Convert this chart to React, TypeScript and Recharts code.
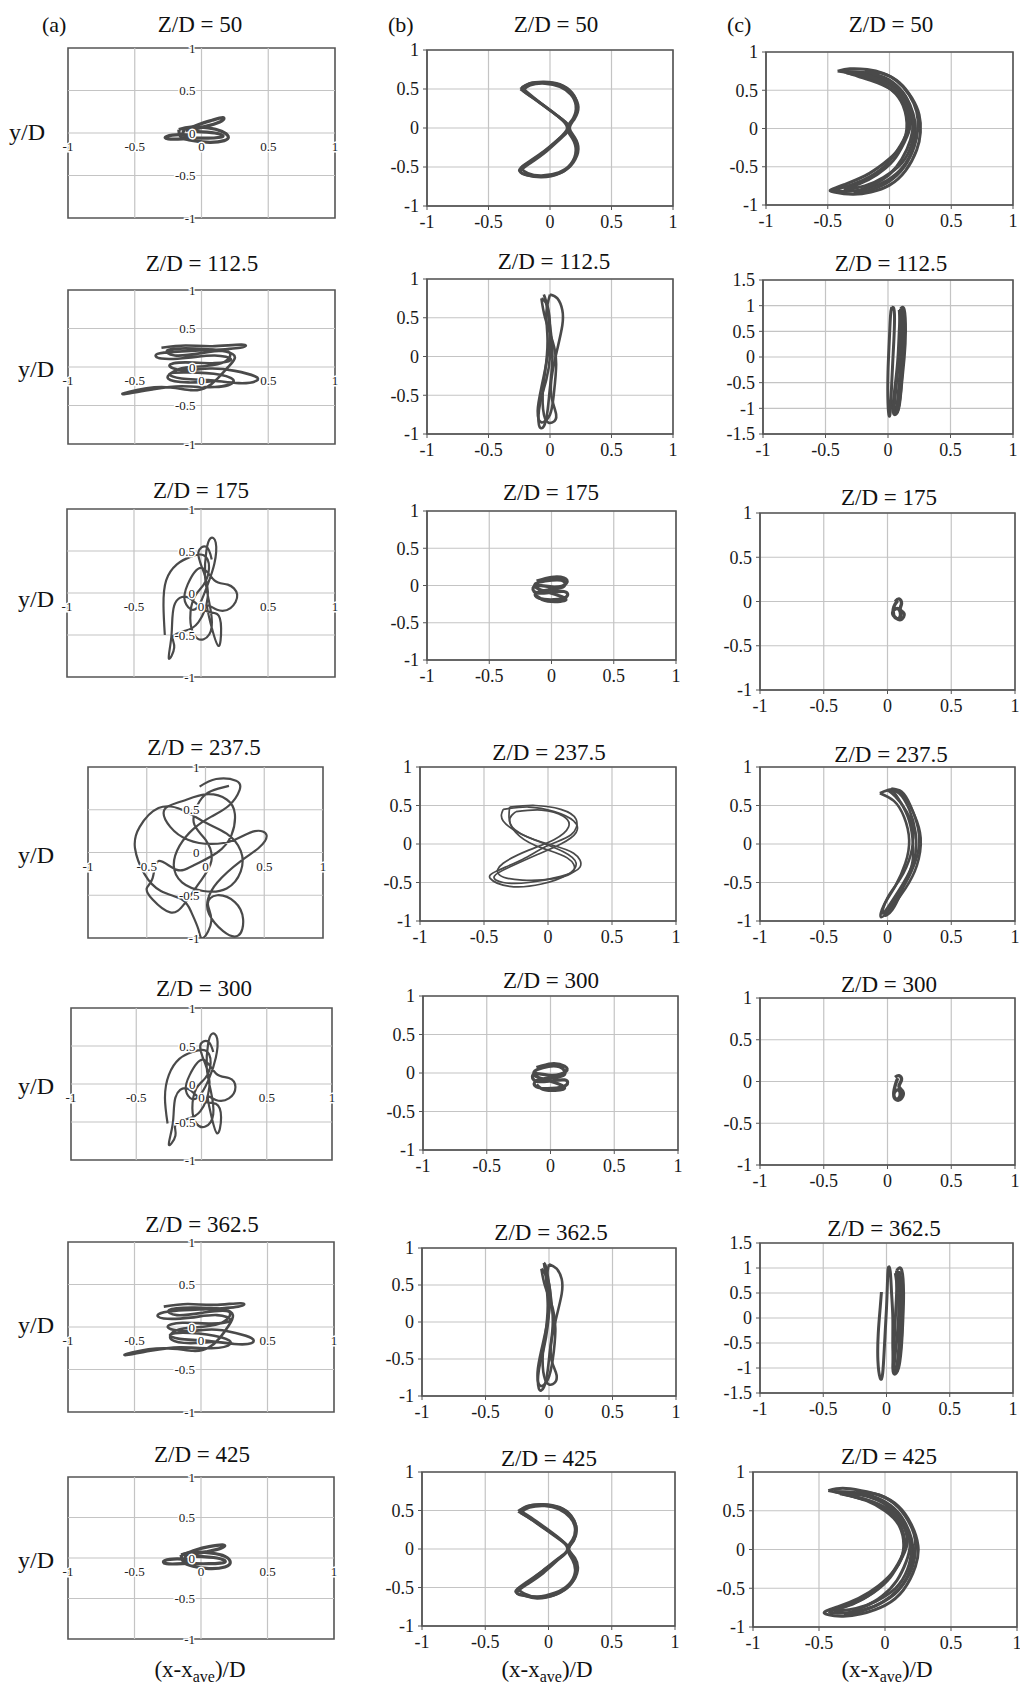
import React from "react";
import {
  LineChart,
  Line,
  XAxis,
  YAxis,
  CartesianGrid,
  ReferenceLine,
  ReferenceArea,
  ReferenceDot,
} from "recharts";

type Pt = [number, number];

const FONT = '"Liberation Serif", "Times New Roman", Times, serif';
const INK = "#4a4a4a";
const GRID = "#c4c4c4";
const FRAME = "#555555";

// ---------- ticks / labels ----------
const unitTicks = [-1, -0.5, 0, 0.5, 1];
const wideTicks = [-1.5, -1, -0.5, 0, 0.5, 1, 1.5];
const innerGrid = [-0.5, 0, 0.5];
const zTitles = ["Z/D = 50", "Z/D = 112.5", "Z/D = 175", "Z/D = 237.5", "Z/D = 300", "Z/D = 362.5", "Z/D = 425"];
const columnTags = ["(a)", "(b)", "(c)"];

// ---------- column (a): rope cross-section paths ----------
const a50Body: Pt[] = [[-0.17,0.04],[-0.08,0.07],[0.05,0.06],[0.15,0.02],[0.2,-0.04],[0.17,-0.09],[0.06,-0.11],[-0.06,-0.09],[-0.15,-0.05],[-0.17,0.04]];
const a50Leaf: Pt[] = [[-0.12,0.03],[-0.02,0.1],[0.08,0.15],[0.16,0.18],[0.15,0.14],[0.06,0.09],[-0.04,0.05],[-0.12,0.03]];
const a50Tail: Pt[] = [[-0.06,-0.03],[-0.16,-0.02],[-0.26,-0.04],[-0.25,-0.07],[-0.14,-0.07],[-0.04,-0.06]];
const a50Inner: Pt[] = [[-0.12,0.06],[-0.14,0.0],[-0.1,-0.05],[0.05,-0.06],[0.16,-0.04],[0.1,0.0],[-0.05,0.02]];

const a112: Pt[] = [[-0.3,0.25],[-0.12,0.28],[0.08,0.27],[0.3,0.29],[0.29,0.25],[0.05,0.22],[-0.18,0.2],[-0.33,0.17],[-0.3,0.11],[-0.1,0.12],[0.1,0.15],[0.22,0.1],[0.1,0.05],[-0.12,0.06],[-0.24,0.02],[-0.14,-0.04],[0.06,-0.02],[0.25,-0.05],[0.4,-0.12],[0.41,-0.18],[0.28,-0.21],[0.05,-0.17],[-0.15,-0.15],[-0.24,-0.09],[-0.1,-0.07],[0.14,-0.1],[0.24,-0.19],[0.1,-0.26],[-0.15,-0.25],[-0.36,-0.29],[-0.57,-0.35],[-0.54,-0.32],[-0.3,-0.26],[-0.08,-0.3],[0.04,-0.26],[0.12,-0.15],[0.2,0.0],[0.25,0.12],[0.18,0.2],[-0.05,0.24],[-0.25,0.22],[-0.2,0.15],[0.0,0.18],[0.2,0.2],[0.15,0.05],[-0.08,0.0],[-0.2,-0.05],[-0.25,-0.15],[-0.1,-0.2],[0.1,-0.18]];

const a175: Pt[] = [[-0.27,-0.5],[-0.28,-0.15],[-0.26,0.15],[-0.18,0.34],[-0.08,0.43],[0.02,0.45],[0.06,0.3],[0.02,0.1],[-0.05,-0.05],[-0.08,-0.3],[-0.05,-0.5],[0.02,-0.55],[0.08,-0.4],[0.06,-0.1],[0.03,0.2],[0.04,0.5],[0.07,0.65],[0.11,0.6],[0.1,0.35],[0.05,0.1],[0.0,-0.1],[-0.06,-0.2],[-0.12,-0.1],[-0.1,0.1],[0.0,0.3],[0.1,0.15],[0.2,0.1],[0.27,-0.02],[0.22,-0.18],[0.12,-0.2],[0.05,-0.15],[0.07,-0.35],[0.13,-0.63],[0.15,-0.42],[0.12,-0.25],[0.02,-0.2],[-0.1,-0.05],[-0.2,-0.15],[-0.22,-0.5],[-0.24,-0.78],[-0.2,-0.65],[-0.21,-0.52],[-0.12,-0.45],[-0.02,-0.35],[0.05,-0.05],[0.02,0.25],[-0.02,0.48],[0.04,0.55],[0.08,0.4]];

const a237: Pt[] = [[-0.05,0.77],[0.09,0.86],[0.26,0.84],[0.29,0.73],[0.2,0.55],[0.05,0.42],[-0.1,0.28],[-0.22,0.08],[-0.27,-0.15],[-0.2,-0.35],[-0.02,-0.45],[0.18,-0.42],[0.3,-0.22],[0.3,0.02],[0.18,0.22],[0.0,0.35],[-0.2,0.5],[-0.4,0.52],[-0.56,0.3],[-0.6,0.05],[-0.52,-0.25],[-0.38,-0.45],[-0.2,-0.55],[-0.12,-0.7],[-0.06,-0.9],[-0.02,-1.0],[0.05,-0.8],[0.02,-0.6],[0.1,-0.5],[0.25,-0.58],[0.32,-0.78],[0.28,-0.97],[0.15,-0.92],[0.03,-0.72],[0.02,-0.55],[0.1,-0.35],[0.3,-0.1],[0.45,0.05],[0.52,0.2],[0.42,0.25],[0.25,0.15],[0.05,0.1],[-0.15,0.15],[-0.3,0.3],[-0.35,0.5],[-0.2,0.6],[0.0,0.68],[0.18,0.62],[0.25,0.45],[0.22,0.2],[0.1,0.0],[-0.1,-0.15],[-0.25,-0.2],[-0.4,-0.1],[-0.45,-0.3],[-0.5,-0.42],[-0.45,-0.55],[-0.3,-0.7],[-0.18,-0.6],[-0.05,-0.35],[0.05,-0.1],[0.0,0.15],[-0.1,0.35],[-0.05,0.6],[0.05,0.72],[0.2,0.78]];

const a300: Pt[] = [[-0.26,-0.52],[-0.28,-0.18],[-0.25,0.12],[-0.17,0.33],[-0.07,0.42],[0.03,0.44],[0.07,0.28],[0.03,0.08],[-0.04,-0.06],[-0.07,-0.32],[-0.04,-0.52],[0.03,-0.56],[0.09,-0.4],[0.07,-0.08],[0.04,0.22],[0.05,0.52],[0.08,0.66],[0.12,0.6],[0.11,0.35],[0.06,0.08],[0.0,-0.12],[-0.07,-0.2],[-0.12,-0.08],[-0.09,0.12],[0.01,0.32],[0.11,0.14],[0.21,0.08],[0.26,-0.04],[0.21,-0.19],[0.11,-0.21],[0.05,-0.17],[0.07,-0.38],[0.12,-0.65],[0.15,-0.44],[0.11,-0.26],[0.01,-0.22],[-0.11,-0.06],[-0.2,-0.18],[-0.22,-0.52],[-0.25,-0.8],[-0.2,-0.68],[-0.2,-0.54],[-0.11,-0.46],[-0.01,-0.36],[0.06,-0.04],[0.03,0.26],[-0.01,0.5],[0.05,0.56],[0.09,0.42]];

const a362: Pt[] = [[-0.28,0.24],[-0.1,0.27],[0.1,0.26],[0.3,0.28],[0.28,0.24],[0.04,0.21],[-0.2,0.19],[-0.32,0.15],[-0.28,0.1],[-0.08,0.11],[0.12,0.14],[0.22,0.08],[0.08,0.04],[-0.14,0.05],[-0.25,0.0],[-0.12,-0.05],[0.08,-0.03],[0.26,-0.07],[0.38,-0.13],[0.38,-0.19],[0.25,-0.2],[0.03,-0.16],[-0.16,-0.14],[-0.23,-0.09],[-0.08,-0.07],[0.15,-0.12],[0.22,-0.2],[0.08,-0.25],[-0.16,-0.24],[-0.38,-0.28],[-0.56,-0.33],[-0.52,-0.3],[-0.28,-0.25],[-0.06,-0.28],[0.06,-0.24],[0.14,-0.13],[0.21,0.02],[0.24,0.14],[0.16,0.21],[-0.07,0.23],[-0.24,0.2],[-0.18,0.14],[0.02,0.17],[0.21,0.18],[0.14,0.04],[-0.09,-0.01],[-0.21,-0.06],[-0.22,-0.15],[-0.08,-0.19],[0.12,-0.17]];

const a425Body: Pt[] = [[-0.15,0.04],[-0.05,0.07],[0.08,0.06],[0.18,0.02],[0.22,-0.05],[0.18,-0.11],[0.06,-0.13],[-0.06,-0.1],[-0.13,-0.05],[-0.15,0.04]];
const a425Leaf: Pt[] = [[-0.14,0.04],[-0.04,0.1],[0.06,0.14],[0.17,0.16],[0.15,0.12],[0.05,0.08],[-0.05,0.05],[-0.14,0.04]];
const a425Tail: Pt[] = [[-0.08,-0.02],[-0.18,-0.01],[-0.27,-0.03],[-0.26,-0.07],[-0.14,-0.07],[-0.05,-0.06]];
const a425Inner: Pt[] = [[-0.1,0.06],[-0.12,0.0],[-0.08,-0.06],[0.06,-0.07],[0.18,-0.05],[0.12,0.0],[-0.04,0.02]];

// ---------- column (b) ----------
const b50a: Pt[] = [[-0.24,0.5],[-0.17,0.57],[-0.05,0.59],[0.08,0.56],[0.18,0.45],[0.22,0.3],[0.2,0.14],[0.15,0.0],[0.19,-0.12],[0.22,-0.28],[0.18,-0.45],[0.08,-0.58],[-0.07,-0.63],[-0.19,-0.6],[-0.25,-0.54],[-0.18,-0.44],[-0.05,-0.3],[0.08,-0.13],[0.15,0.0],[0.09,0.12],[-0.03,0.26],[-0.15,0.4],[-0.24,0.5]];
const b50b: Pt[] = [[-0.22,0.48],[-0.16,0.55],[-0.04,0.57],[0.08,0.53],[0.17,0.43],[0.21,0.29],[0.19,0.13],[0.14,0.0],[0.18,-0.13],[0.21,-0.29],[0.17,-0.46],[0.07,-0.57],[-0.07,-0.61],[-0.18,-0.58],[-0.23,-0.52],[-0.2,-0.47],[-0.07,-0.33],[0.07,-0.14],[0.14,0.0],[0.08,0.13],[-0.05,0.29],[-0.17,0.42],[-0.22,0.48]];
const b50c: Pt[] = [[-0.23,0.52],[-0.14,0.58],[-0.02,0.58],[0.1,0.54],[0.19,0.42],[0.23,0.27],[0.2,0.12],[0.16,0.0],[0.2,-0.12],[0.23,-0.27],[0.19,-0.44],[0.09,-0.57],[-0.05,-0.62],[-0.17,-0.61],[-0.24,-0.56],[-0.16,-0.45],[-0.03,-0.3],[0.09,-0.13],[0.16,0.0],[0.1,0.11],[-0.02,0.25],[-0.14,0.4],[-0.23,0.52]];

const b112a: Pt[] = [[-0.05,0.8],[-0.02,0.6],[0.0,0.3],[0.0,0.0],[-0.03,-0.3],[-0.08,-0.6],[-0.09,-0.88],[-0.05,-0.9],[-0.02,-0.7],[0.0,-0.4],[0.02,0.0],[0.0,0.4],[-0.03,0.7],[-0.05,0.8]];
const b112b: Pt[] = [[0.0,0.8],[0.06,0.75],[0.1,0.6],[0.1,0.4],[0.06,0.1],[0.02,-0.2],[0.01,-0.5],[0.05,-0.75],[0.02,-0.85],[-0.04,-0.8],[-0.06,-0.5],[-0.04,-0.2],[-0.02,0.2],[-0.03,0.55],[0.0,0.8]];
const b112c: Pt[] = [[-0.07,0.75],[-0.04,0.5],[0.02,0.2],[0.05,-0.1],[0.03,-0.5],[0.0,-0.75],[-0.07,-0.85],[-0.1,-0.7],[-0.07,-0.4],[-0.02,0.0],[0.0,0.35],[-0.02,0.65],[-0.07,0.75]];

const b175: Pt[] = [[-0.12,0.06],[0.0,0.11],[0.1,0.1],[0.12,0.03],[0.02,-0.02],[-0.12,0.0],[-0.14,-0.08],[-0.04,-0.1],[0.1,-0.08],[0.12,-0.15],[0.02,-0.19],[-0.1,-0.17],[-0.12,-0.1],[0.0,-0.05],[0.1,-0.01],[0.08,0.07],[-0.05,0.06],[-0.13,0.02],[-0.1,-0.05],[0.05,-0.13],[0.11,-0.2],[-0.03,-0.21],[-0.12,-0.14]];

const b237a: Pt[] = [[-0.35,0.45],[-0.15,0.48],[0.05,0.42],[0.2,0.3],[0.22,0.15],[0.1,0.0],[-0.1,-0.15],[-0.3,-0.3],[-0.42,-0.42],[-0.35,-0.5],[-0.15,-0.5],[0.1,-0.42],[0.25,-0.3],[0.2,-0.12],[0.0,0.0],[-0.2,0.12],[-0.35,0.3],[-0.35,0.45]];
const b237b: Pt[] = [[-0.3,0.48],[-0.1,0.5],[0.1,0.45],[0.22,0.32],[0.18,0.12],[0.0,-0.02],[-0.2,-0.2],[-0.4,-0.35],[-0.45,-0.45],[-0.3,-0.55],[-0.05,-0.52],[0.15,-0.4],[0.22,-0.25],[0.12,-0.1],[-0.1,0.05],[-0.28,0.22],[-0.3,0.48]];
const b237c: Pt[] = [[-0.25,0.42],[-0.05,0.44],[0.12,0.36],[0.16,0.22],[0.05,0.06],[-0.15,-0.08],[-0.35,-0.25],[-0.38,-0.4],[-0.2,-0.47],[0.05,-0.45],[0.2,-0.35],[0.15,-0.18],[-0.05,-0.05],[-0.22,0.1],[-0.3,0.3],[-0.25,0.42]];

const b300: Pt[] = [[-0.11,0.07],[0.01,0.12],[0.11,0.09],[0.12,0.02],[0.01,-0.03],[-0.12,-0.01],[-0.13,-0.09],[-0.03,-0.11],[0.11,-0.09],[0.12,-0.16],[0.01,-0.2],[-0.11,-0.18],[-0.11,-0.1],[0.01,-0.06],[0.11,-0.02],[0.07,0.08],[-0.06,0.07],[-0.13,0.01],[-0.09,-0.06],[0.06,-0.14],[0.1,-0.21],[-0.04,-0.22],[-0.11,-0.15]];

const b362a: Pt[] = [[-0.04,0.8],[-0.02,0.55],[0.0,0.25],[-0.01,-0.05],[-0.04,-0.35],[-0.08,-0.65],[-0.08,-0.9],[-0.04,-0.88],[-0.01,-0.65],[0.01,-0.35],[0.03,0.0],[0.01,0.4],[-0.02,0.72],[-0.04,0.8]];
const b362b: Pt[] = [[0.0,0.78],[0.06,0.72],[0.1,0.58],[0.1,0.38],[0.06,0.08],[0.02,-0.25],[0.02,-0.52],[0.06,-0.72],[0.03,-0.84],[-0.03,-0.78],[-0.05,-0.48],[-0.03,-0.18],[-0.01,0.22],[-0.02,0.55],[0.0,0.78]];
const b362c: Pt[] = [[-0.06,0.72],[-0.03,0.48],[0.03,0.18],[0.05,-0.12],[0.03,-0.5],[-0.01,-0.78],[-0.07,-0.86],[-0.09,-0.68],[-0.06,-0.38],[-0.01,0.02],[0.01,0.38],[-0.02,0.62],[-0.06,0.72]];

const b425a: Pt[] = [[-0.24,0.49],[-0.16,0.56],[-0.04,0.58],[0.09,0.54],[0.18,0.43],[0.22,0.28],[0.2,0.12],[0.16,0.0],[0.2,-0.13],[0.22,-0.29],[0.17,-0.47],[0.06,-0.59],[-0.09,-0.64],[-0.2,-0.6],[-0.26,-0.55],[-0.19,-0.45],[-0.06,-0.3],[0.08,-0.12],[0.16,0.0],[0.1,0.11],[-0.03,0.26],[-0.15,0.4],[-0.24,0.49]];
const b425b: Pt[] = [[-0.22,0.47],[-0.15,0.54],[-0.03,0.56],[0.08,0.52],[0.17,0.41],[0.21,0.27],[0.19,0.12],[0.15,0.0],[0.19,-0.14],[0.21,-0.3],[0.16,-0.46],[0.05,-0.57],[-0.09,-0.62],[-0.19,-0.58],[-0.24,-0.52],[-0.2,-0.48],[-0.08,-0.33],[0.07,-0.14],[0.15,0.0],[0.08,0.14],[-0.05,0.29],[-0.17,0.42],[-0.22,0.47]];
const b425c: Pt[] = [[-0.23,0.5],[-0.13,0.57],[-0.01,0.57],[0.11,0.52],[0.19,0.4],[0.22,0.26],[0.2,0.11],[0.16,0.0],[0.21,-0.12],[0.23,-0.28],[0.18,-0.45],[0.07,-0.58],[-0.07,-0.63],[-0.18,-0.61],[-0.25,-0.57],[-0.17,-0.46],[-0.04,-0.31],[0.09,-0.12],[0.16,0.0],[0.1,0.12],[-0.02,0.27],[-0.14,0.41],[-0.23,0.5]];

// ---------- column (c) ----------
const c50a: Pt[] = [[-0.42,0.75],[-0.32,0.78],[-0.18,0.77],[-0.05,0.72],[0.08,0.6],[0.18,0.4],[0.24,0.18],[0.25,-0.05],[0.22,-0.28],[0.13,-0.55],[0.0,-0.74],[-0.15,-0.83],[-0.3,-0.86],[-0.45,-0.83],[-0.47,-0.8],[-0.36,-0.73],[-0.2,-0.62],[-0.05,-0.46],[0.08,-0.26],[0.14,0.0],[0.11,0.3],[0.02,0.5],[-0.12,0.63],[-0.28,0.71],[-0.42,0.75]];
const c50b: Pt[] = [[-0.38,0.75],[-0.25,0.74],[-0.1,0.7],[0.03,0.6],[0.13,0.42],[0.19,0.2],[0.21,0.0],[0.19,-0.25],[0.11,-0.5],[-0.02,-0.68],[-0.17,-0.78],[-0.32,-0.82],[-0.44,-0.81],[-0.3,-0.73],[-0.15,-0.62],[-0.02,-0.46],[0.09,-0.22],[0.15,0.02],[0.13,0.28],[0.05,0.47],[-0.1,0.6],[-0.25,0.68],[-0.38,0.75]];
const c50c: Pt[] = [[-0.35,0.73],[-0.2,0.72],[-0.06,0.66],[0.07,0.52],[0.16,0.3],[0.2,0.05],[0.18,-0.2],[0.1,-0.45],[-0.05,-0.64],[-0.2,-0.75],[-0.36,-0.8],[-0.24,-0.72],[-0.1,-0.6],[0.03,-0.42],[0.12,-0.18],[0.17,0.05],[0.14,0.3],[0.04,0.52],[-0.12,0.65],[-0.35,0.73]];
const c50d: Pt[] = [[-0.2,0.75],[-0.06,0.72],[0.06,0.62],[0.16,0.44],[0.22,0.22],[0.23,0.0],[0.2,-0.24],[0.12,-0.5],[0.0,-0.69],[-0.15,-0.8],[-0.28,-0.84],[-0.14,-0.74],[0.0,-0.6],[0.1,-0.4],[0.17,-0.15],[0.19,0.08],[0.16,0.32],[0.08,0.52],[-0.05,0.66],[-0.2,0.75]];

const c112L: Pt[] = [[0.03,0.97],[0.05,0.9],[0.05,0.5],[0.04,0.0],[0.03,-0.5],[0.02,-1.0],[0.01,-1.15],[0.0,-0.9],[0.0,-0.3],[0.01,0.3],[0.02,0.8],[0.03,0.97]];
const c112a: Pt[] = [[0.1,0.94],[0.13,0.92],[0.14,0.5],[0.13,0.0],[0.11,-0.5],[0.09,-0.95],[0.06,-1.12],[0.04,-1.0],[0.06,-0.5],[0.08,0.0],[0.09,0.5],[0.1,0.94]];
const c112b: Pt[] = [[0.12,0.93],[0.13,0.6],[0.12,0.1],[0.1,-0.4],[0.08,-0.9],[0.05,-1.08],[0.06,-0.7],[0.08,-0.2],[0.1,0.3],[0.11,0.8],[0.12,0.93]];
const c112c: Pt[] = [[0.09,0.92],[0.1,0.5],[0.1,0.0],[0.09,-0.5],[0.07,-1.05],[0.09,-0.9],[0.11,-0.4],[0.12,0.2],[0.12,0.7],[0.09,0.92]];

const c175: Pt[] = [[0.06,0.0],[0.09,0.03],[0.11,-0.02],[0.1,-0.09],[0.13,-0.14],[0.11,-0.2],[0.07,-0.19],[0.04,-0.13],[0.07,-0.08],[0.1,-0.12],[0.09,-0.19],[0.05,-0.16],[0.05,-0.06],[0.08,0.01]];

const c237a: Pt[] = [[-0.06,0.66],[0.04,0.71],[0.13,0.62],[0.21,0.38],[0.26,0.08],[0.23,-0.28],[0.14,-0.58],[0.03,-0.83],[-0.05,-0.95],[-0.03,-0.8],[0.06,-0.55],[0.14,-0.25],[0.17,0.05],[0.13,0.35],[0.05,0.56],[-0.06,0.66]];
const c237b: Pt[] = [[0.0,0.7],[0.09,0.66],[0.17,0.45],[0.22,0.15],[0.21,-0.2],[0.12,-0.52],[0.02,-0.78],[-0.04,-0.9],[0.0,-0.7],[0.1,-0.45],[0.18,-0.15],[0.2,0.15],[0.15,0.42],[0.06,0.62],[0.0,0.7]];
const c237c: Pt[] = [[0.03,0.72],[0.11,0.68],[0.18,0.5],[0.24,0.2],[0.24,-0.1],[0.17,-0.42],[0.07,-0.7],[-0.02,-0.92],[0.04,-0.85],[0.12,-0.58],[0.19,-0.28],[0.2,0.0],[0.17,0.3],[0.1,0.55],[0.03,0.72]];

const c300: Pt[] = [[0.06,0.05],[0.09,0.07],[0.11,0.02],[0.09,-0.06],[0.12,-0.12],[0.11,-0.2],[0.07,-0.22],[0.05,-0.15],[0.08,-0.1],[0.1,-0.15],[0.08,-0.21],[0.05,-0.17],[0.06,-0.05],[0.08,0.04]];

const c362L: Pt[] = [[-0.04,0.52],[-0.05,0.2],[-0.065,-0.3],[-0.068,-0.85],[-0.05,-1.2],[-0.03,-1.1],[-0.015,-0.5],[0.0,0.2],[0.008,0.75],[0.015,1.01],[0.03,0.92],[0.04,0.5],[0.05,0.0],[0.05,-0.6],[0.06,-1.05]];
const c362a: Pt[] = [[0.08,0.95],[0.12,0.96],[0.135,0.5],[0.13,0.0],[0.12,-0.5],[0.1,-0.95],[0.07,-1.12],[0.05,-1.0],[0.06,-0.5],[0.07,0.0],[0.08,0.5],[0.08,0.95]];
const c362b: Pt[] = [[0.1,0.94],[0.12,0.6],[0.12,0.1],[0.11,-0.4],[0.09,-0.9],[0.06,-1.08],[0.07,-0.7],[0.09,-0.2],[0.1,0.3],[0.1,0.8],[0.1,0.94]];
const c362c: Pt[] = [[0.07,0.9],[0.09,0.5],[0.1,0.0],[0.1,-0.5],[0.08,-1.05],[0.1,-0.85],[0.12,-0.35],[0.125,0.2],[0.12,0.75],[0.07,0.9]];

const c425a: Pt[] = [[-0.43,0.76],[-0.32,0.79],[-0.18,0.76],[-0.04,0.7],[0.1,0.56],[0.2,0.32],[0.25,0.05],[0.23,-0.22],[0.14,-0.52],[0.0,-0.72],[-0.18,-0.83],[-0.33,-0.86],[-0.46,-0.82],[-0.36,-0.74],[-0.2,-0.63],[-0.05,-0.47],[0.08,-0.25],[0.14,0.0],[0.11,0.3],[0.0,0.5],[-0.14,0.63],[-0.3,0.71],[-0.43,0.76]];
const c425b: Pt[] = [[-0.39,0.75],[-0.24,0.74],[-0.1,0.69],[0.04,0.57],[0.14,0.38],[0.2,0.14],[0.21,-0.1],[0.17,-0.35],[0.07,-0.58],[-0.08,-0.73],[-0.25,-0.81],[-0.42,-0.81],[-0.28,-0.72],[-0.13,-0.6],[0.0,-0.42],[0.1,-0.18],[0.15,0.05],[0.12,0.3],[0.03,0.5],[-0.12,0.63],[-0.27,0.7],[-0.39,0.75]];
const c425c: Pt[] = [[-0.34,0.72],[-0.2,0.71],[-0.06,0.64],[0.08,0.48],[0.17,0.25],[0.2,0.0],[0.17,-0.26],[0.08,-0.5],[-0.07,-0.67],[-0.22,-0.76],[-0.38,-0.79],[-0.24,-0.7],[-0.09,-0.56],[0.04,-0.36],[0.13,-0.1],[0.17,0.1],[0.13,0.33],[0.02,0.52],[-0.14,0.64],[-0.34,0.72]];
const c425d: Pt[] = [[-0.22,0.74],[-0.08,0.72],[0.05,0.62],[0.15,0.44],[0.22,0.2],[0.23,-0.02],[0.2,-0.26],[0.11,-0.5],[-0.02,-0.68],[-0.17,-0.79],[-0.3,-0.84],[-0.16,-0.74],[-0.02,-0.6],[0.09,-0.4],[0.16,-0.16],[0.19,0.06],[0.16,0.3],[0.08,0.5],[-0.06,0.65],[-0.22,0.74]];

// ---------- layout (plot boxes: left, top, width, height) ----------
type Box = [number, number, number, number];
const colA: Box[] = [[68,48,267,170],[68,290,267,154],[67,509,268,168],[88,767,235,171],[71,1008,261,152],[68,1242,266,170],[68,1477,266,162]];
const colB: Box[] = [[427,50,246,156],[427,279,246,155],[427,511,249,149],[420,767,256,154],[423,996,255,154],[422,1248,254,148],[422,1472,253,154]];
const colC: Box[] = [[766,52,247,153],[763,280,250,154],[760,513,255,177],[760,767,255,154],[760,998,255,167],[760,1243,253,150],[753,1472,264,155]];

const titleCx = [[200,556,891],[202,554,891],[201,551,889],[204,549,891],[204,551,889],[202,551,884],[202,549,889]];
const titleY = [[32,32,32],[271,269,271],[498,500,505],[755,760,762],[996,988,992],[1232,1240,1236],[1462,1466,1464]];
const yLabelY = [140,377,607,863,1094,1333,1568];

const curvesA: Pt[][][] = [
  [a50Body, a50Leaf, a50Tail, a50Inner],
  [a112],
  [a175],
  [a237],
  [a300],
  [a362],
  [a425Body, a425Leaf, a425Tail, a425Inner],
];
const curvesB: Pt[][][] = [
  [b50a, b50b, b50c],
  [b112a, b112b, b112c],
  [b175],
  [b237a, b237b, b237c],
  [b300],
  [b362a, b362b, b362c],
  [b425a, b425b, b425c],
];
const curvesC: Pt[][][] = [
  [c50a, c50b, c50c, c50d],
  [c112L, c112a, c112b, c112c],
  [c175],
  [c237a, c237b, c237c],
  [c300],
  [c362L, c362a, c362b, c362c],
  [c425a, c425b, c425c, c425d],
];
const wideC = [false, true, false, false, false, true, false];
const strokeA = [3.2, 2.6, 2.2, 2.2, 2.2, 2.6, 3.2];
const strokeB = [2.8, 2.6, 3.2, 1.7, 3.2, 2.6, 2.8];
const strokeC = [3, 3, 3.4, 2.6, 3.4, 3, 3];

const toRows = (pts: Pt[]) => pts.map(([x, y]) => ({ x, y }));
const fmt = (v: number) => String(v);

const PAD = 14;

function CrossPanel({ box, curves, sw }: { box: Box; curves: Pt[][]; sw: number }) {
  const [l, t, w, h] = box;
  const xLab = (v: number) => (p: any) => (
    <text x={p.cx} y={p.cy + 18} textAnchor="middle" fontFamily={FONT} fontSize={13} fill="#222"
      stroke="#fff" strokeWidth={3} paintOrder="stroke">{fmt(v)}</text>
  );
  const yLab = (v: number) => (p: any) => (
    <text x={p.cx - 6} y={p.cy + 4.5} textAnchor="end" fontFamily={FONT} fontSize={13} fill="#222"
      stroke="#fff" strokeWidth={3} paintOrder="stroke">{fmt(v)}</text>
  );
  return (
    <div style={{ position: "absolute", left: l - PAD, top: t - PAD }}>
      <LineChart width={w + 2 * PAD} height={h + 2 * PAD} margin={{ top: PAD, right: PAD, bottom: PAD, left: PAD }}>
        <XAxis type="number" dataKey="x" domain={[-1, 1]} hide allowDataOverflow />
        <YAxis type="number" domain={[-1, 1]} hide allowDataOverflow />
        {innerGrid.map((v) => <ReferenceLine key={"gx" + v} x={v} stroke={GRID} strokeWidth={1.2} />)}
        {innerGrid.map((v) => <ReferenceLine key={"gy" + v} y={v} stroke={GRID} strokeWidth={1.2} />)}
        {curves.map((c, i) => (
          <Line key={i} data={toRows(c)} dataKey="y" type="natural" dot={false} stroke={INK}
            strokeWidth={sw} isAnimationActive={false} />
        ))}
        <ReferenceArea x1={-1} x2={1} y1={-1} y2={1} fill="none" stroke={FRAME} strokeWidth={1.6} ifOverflow="visible" />
        {unitTicks.map((v) => <ReferenceDot key={"xt" + v} x={v} y={0} r={0} ifOverflow="visible" shape={xLab(v)} />)}
        {unitTicks.map((v) => <ReferenceDot key={"yt" + v} x={0} y={v} r={0} ifOverflow="visible" shape={yLab(v)} />)}
      </LineChart>
    </div>
  );
}

function BoxPanel({ box, curves, wide, sw }: { box: Box; curves: Pt[][]; wide: boolean; sw: number }) {
  const [l, t, w, h] = box;
  const yTicks = wide ? wideTicks : unitTicks;
  const yDom: [number, number] = wide ? [-1.5, 1.5] : [-1, 1];
  const tickStyle = { fontSize: 18, fill: "#1a1a1a", fontFamily: FONT };
  return (
    <div style={{ position: "absolute", left: l - 60, top: t - 12 }}>
      <LineChart width={w + 60 + 12} height={h + 12 + 36} margin={{ top: 12, right: 12, bottom: 0, left: 0 }}>
        <CartesianGrid stroke={GRID} strokeWidth={1.2} />
        <XAxis type="number" dataKey="x" domain={[-1, 1]} ticks={unitTicks} interval={0} height={36}
          tickSize={4} tickMargin={5} tick={tickStyle} axisLine={{ stroke: FRAME }} tickLine={{ stroke: FRAME }}
          tickFormatter={fmt} allowDataOverflow />
        <YAxis type="number" domain={yDom} ticks={yTicks} interval={0} width={60} tickSize={4} tickMargin={4}
          tick={tickStyle} axisLine={{ stroke: FRAME }} tickLine={{ stroke: FRAME }} tickFormatter={fmt} allowDataOverflow />
        {curves.map((c, i) => (
          <Line key={i} data={toRows(c)} dataKey="y" type="natural" dot={false} stroke={INK}
            strokeWidth={sw} isAnimationActive={false} />
        ))}
        <ReferenceArea x1={-1} x2={1} y1={yDom[0]} y2={yDom[1]} fill="none" stroke={FRAME} strokeWidth={1.6} ifOverflow="visible" />
      </LineChart>
    </div>
  );
}

function XLabel({ cx }: { cx: number }) {
  return (
    <text x={cx} y={1677} textAnchor="middle" fontFamily={FONT} fontSize={23} fill="#111">
      (x-x<tspan dy={5} fontSize={16}>ave</tspan><tspan dy={-5}>)/D</tspan>
    </text>
  );
}

export default function App() {
  return (
    <div style={{ position: "absolute", left: 0, top: 0, width: 1020, height: 1687, background: "#fff", overflow: "hidden" }}>
      {colA.map((b, i) => <CrossPanel key={"a" + i} box={b} curves={curvesA[i]} sw={strokeA[i]} />)}
      {colB.map((b, i) => <BoxPanel key={"b" + i} box={b} curves={curvesB[i]} wide={false} sw={strokeB[i]} />)}
      {colC.map((b, i) => <BoxPanel key={"c" + i} box={b} curves={curvesC[i]} wide={wideC[i]} sw={strokeC[i]} />)}
      <svg width={1020} height={1687} style={{ position: "absolute", left: 0, top: 0, pointerEvents: "none" }}>
        {columnTags.map((tag, i) => (
          <text key={tag} x={[42, 388, 727][i]} y={32} fontFamily={FONT} fontSize={22} fill="#111">{tag}</text>
        ))}
        {zTitles.map((tt, r) =>
          [0, 1, 2].map((c) => (
            <text key={tt + c} x={titleCx[r][c]} y={titleY[r][c]} textAnchor="middle" fontFamily={FONT} fontSize={23} fill="#111">{tt}</text>
          ))
        )}
        {yLabelY.map((y, r) => (
          <text key={"yl" + r} x={r === 0 ? 9 : 18} y={y} fontFamily={FONT} fontSize={24} fill="#111">y/D</text>
        ))}
        <XLabel cx={200} />
        <XLabel cx={547} />
        <XLabel cx={887} />
      </svg>
    </div>
  );
}
